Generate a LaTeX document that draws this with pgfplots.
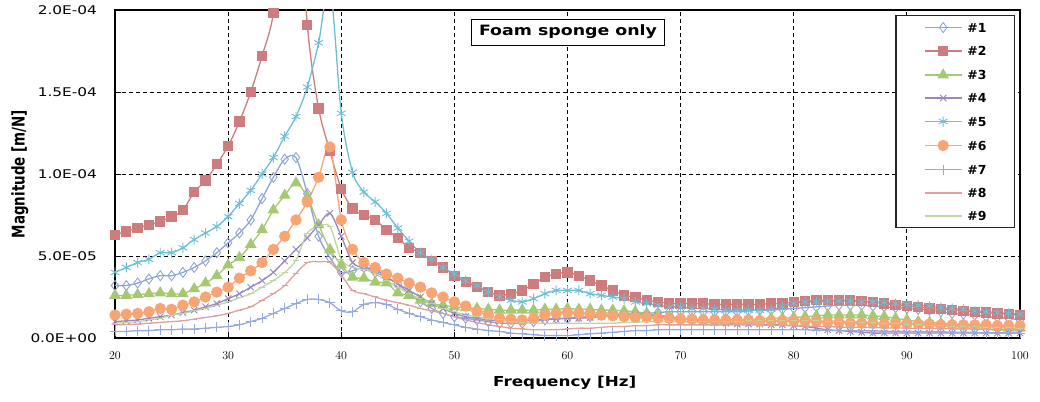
\documentclass[border=0pt]{standalone}
\usepackage{fontspec}
\setmainfont{DejaVu Sans}
\newfontfamily\widefont[FakeStretch=1.22]{DejaVu Sans}
\newfontfamily\tickfont[FakeStretch=1.28]{DejaVu Sans}
\usepackage{graphicx}
\usepackage{pgfplots}
\usepackage{pgfplotstable}
\pgfplotsset{compat=1.18}

\definecolor{c1}{RGB}{143,165,214}
\definecolor{c2}{RGB}{205,125,125}
\definecolor{c3}{RGB}{165,200,115}
\definecolor{c4}{RGB}{155,135,190}
\definecolor{c5}{RGB}{110,190,215}
\definecolor{c6}{RGB}{248,165,115}
\definecolor{c7}{RGB}{150,170,220}
\definecolor{c8}{RGB}{225,160,160}
\definecolor{c9}{RGB}{190,215,160}

% magnitude in units of 1E-05 m/N
\pgfplotstableread{
f s1 s2 s3 s4 s5 s6 s7 s8 s9
20 3.2 6.3 2.6 1.0 4.0 1.4 0.4 0.8 0.9
21 3.2 6.5 2.6 1.05 4.3 1.45 0.4 0.82 0.95
22 3.35 6.7 2.65 1.1 4.6 1.5 0.45 0.85 1.0
23 3.6 6.9 2.7 1.2 4.8 1.6 0.45 0.9 1.1
24 3.8 7.1 2.75 1.3 5.2 1.8 0.5 0.95 1.2
25 3.8 7.4 2.7 1.4 5.2 1.75 0.5 1.0 1.4
26 4.0 7.8 2.7 1.55 5.5 2.0 0.55 1.05 1.5
27 4.3 8.9 3.0 1.7 6.0 2.2 0.55 1.15 1.65
28 4.7 9.6 3.35 1.9 6.4 2.5 0.6 1.25 1.8
29 5.2 10.6 3.8 2.1 6.8 2.8 0.65 1.35 2.0
30 5.8 11.7 4.45 2.4 7.4 3.1 0.7 1.5 2.2
31 6.4 13.2 4.9 2.7 8.2 3.65 0.8 1.7 2.45
32 7.2 15.0 5.7 3.1 9.0 4.1 1.0 1.9 2.7
33 8.5 17.2 6.6 3.5 10.0 4.6 1.2 2.3 3.1
34 9.8 19.8 7.8 4.0 11.0 5.4 1.5 2.7 3.5
35 10.9 26 8.7 4.7 12.3 6.2 1.8 3.2 4.0
36 11.0 30 9.45 5.4 13.5 7.2 2.1 3.95 4.75
37 8.8 19.1 8.6 6.1 15.3 8.3 2.35 4.6 6.4
38 6.2 14.0 6.9 6.9 18.0 9.8 2.35 4.65 6.8
39 4.9 11.4 5.4 7.6 21.5 11.65 2.15 4.6 6.8
40 4.0 9.1 4.45 6.2 13.7 7.2 1.65 3.85 4.8
41 4.1 7.9 3.7 4.6 10.1 5.4 1.6 2.9 4.3
42 4.3 7.5 3.65 4.3 8.9 4.6 2.05 2.7 4.2
43 4.0 7.2 3.4 4.2 8.3 4.3 2.15 2.5 3.9
44 3.7 6.6 3.35 3.7 7.6 3.9 2.05 2.3 3.5
45 3.3 6.1 2.75 3.3 6.7 3.65 1.75 2.15 3.1
46 2.7 5.5 2.6 2.9 5.9 3.35 1.5 2.0 2.7
47 2.2 5.2 2.3 2.5 5.2 3.1 1.3 1.8 2.4
48 1.8 4.7 2.1 2.1 4.8 2.75 1.1 1.65 2.1
49 1.5 4.3 2.0 1.8 4.3 2.5 0.95 1.5 1.8
50 1.3 3.8 1.9 1.5 3.9 2.2 0.8 1.3 1.6
51 1.2 3.4 1.85 1.3 3.5 1.95 0.65 1.1 1.4
52 1.1 3.1 1.8 1.2 3.2 1.6 0.55 0.95 1.3
53 1.0 2.8 1.75 1.1 2.8 1.4 0.45 0.8 1.2
54 0.9 2.6 1.7 1.05 2.5 1.2 0.4 0.7 1.1
55 0.9 2.7 1.7 1.05 2.3 1.15 0.3 0.6 1.0
56 0.9 2.9 1.7 1.05 2.2 1.1 0.25 0.55 0.95
57 1.0 3.3 1.7 1.1 2.4 1.2 0.2 0.5 0.9
58 1.1 3.7 1.75 1.15 2.7 1.4 0.15 0.5 0.9
59 1.2 3.9 1.75 1.15 2.9 1.5 0.15 0.5 0.9
60 1.2 4.0 1.8 1.2 2.9 1.55 0.15 0.55 0.9
61 1.3 3.8 1.75 1.2 2.9 1.5 0.2 0.6 0.9
62 1.3 3.5 1.75 1.25 2.7 1.45 0.25 0.6 0.9
63 1.4 3.2 1.7 1.3 2.6 1.4 0.3 0.65 0.9
64 1.4 2.9 1.7 1.35 2.5 1.35 0.35 0.7 0.9
65 1.5 2.6 1.65 1.4 2.4 1.3 0.4 0.7 0.95
66 1.5 2.5 1.6 1.4 2.2 1.25 0.45 0.75 0.95
67 1.5 2.3 1.5 1.4 2.1 1.25 0.45 0.75 1.0
68 1.55 2.2 1.4 1.35 2.0 1.2 0.5 0.8 1.0
69 1.6 2.1 1.3 1.3 1.9 1.2 0.5 0.8 1.0
70 1.6 2.1 1.2 1.2 1.9 1.15 0.5 0.8 1.0
71 1.6 2.1 1.15 1.1 1.8 1.15 0.5 0.8 1.0
72 1.6 2.1 1.1 1.0 1.8 1.1 0.5 0.8 1.0
73 1.6 2.05 1.1 0.95 1.75 1.1 0.5 0.8 1.0
74 1.6 2.05 1.1 0.9 1.7 1.1 0.5 0.8 1.02
75 1.6 2.05 1.1 0.85 1.7 1.1 0.5 0.8 1.03
76 1.65 2.05 1.1 0.85 1.7 1.1 0.5 0.8 1.04
77 1.7 2.05 1.15 0.85 1.7 1.05 0.5 0.78 1.05
78 1.7 2.1 1.2 0.8 1.75 1.05 0.5 0.77 1.05
79 1.75 2.1 1.2 0.8 1.9 1.05 0.5 0.76 1.05
80 1.8 2.2 1.25 0.75 2.1 1.05 0.5 0.75 1.05
81 1.85 2.25 1.3 0.7 2.2 1.0 0.5 0.73 1.05
82 1.9 2.3 1.35 0.6 2.2 1.0 0.48 0.71 1.04
83 1.95 2.3 1.4 0.5 2.25 0.95 0.47 0.69 1.03
84 2.0 2.3 1.4 0.45 2.25 0.95 0.46 0.67 1.02
85 2.0 2.3 1.4 0.4 2.25 0.9 0.45 0.65 1.0
86 2.0 2.25 1.4 0.35 2.2 0.9 0.44 0.64 0.97
87 1.95 2.2 1.35 0.3 2.2 0.9 0.43 0.63 0.94
88 1.9 2.1 1.3 0.3 2.15 0.85 0.42 0.62 0.91
89 1.85 2.0 1.2 0.3 2.1 0.85 0.41 0.61 0.88
90 1.8 1.95 1.1 0.3 2.05 0.85 0.4 0.6 0.85
91 1.75 1.9 1.0 0.3 2.0 0.85 0.39 0.59 0.82
92 1.7 1.8 0.95 0.3 1.95 0.85 0.38 0.58 0.79
93 1.6 1.75 0.9 0.3 1.85 0.8 0.37 0.57 0.76
94 1.5 1.7 0.85 0.3 1.8 0.8 0.36 0.56 0.73
95 1.45 1.65 0.8 0.3 1.75 0.8 0.35 0.55 0.7
96 1.4 1.6 0.75 0.3 1.65 0.8 0.34 0.54 0.68
97 1.3 1.55 0.7 0.3 1.6 0.8 0.33 0.53 0.66
98 1.25 1.5 0.65 0.3 1.55 0.75 0.32 0.52 0.64
99 1.2 1.45 0.6 0.3 1.5 0.75 0.31 0.51 0.62
100 1.1 1.4 0.6 0.3 1.45 0.75 0.3 0.5 0.6
}\freqdata

\begin{document}
\begin{tikzpicture}
\useasboundingbox (-115bp,-64bp) rectangle (925bp,338bp);
\begin{axis}[
    at={(0,0)}, anchor=south west,
    scale only axis, width=905bp, height=328bp,
    xmin=20, xmax=100, ymin=0, ymax=20,
    xtick={20,30,...,100},
    ytick={0,5,10,15,20},
    yticklabels={0.0E+00,5.0E-05,1.0E-04,1.5E-04,2.0E-04},
    scaled y ticks=false,
    grid=major,
    major grid style={black, dash pattern=on 4bp off 3bp, line width=0.8bp},
    axis line style={black, line width=1.2bp},
    tick style={black, line width=0.8bp},
    tick pos=left, tick align=inside, major tick length=6bp,
    tick label style={font=\tickfont\fontsize{12}{14}\selectfont},
    xticklabel style={anchor=center, inner sep=0pt, yshift=-18bp},
    yticklabel style={anchor=east, inner sep=0pt, xshift=-18bp},
    xlabel={Frequency [Hz]},
    ylabel={\scalebox{1}[1.3]{Magnitude [m/N]}},
    xlabel style={font=\widefont\bfseries\fontsize{13.8}{16}\selectfont,
        at={(axis description cs:0.497,-0.137)}, anchor=center},
    ylabel style={font=\bfseries\fontsize{13.5}{15}\selectfont,
        at={(axis description cs:-0.105,0.5)}, anchor=center},
    legend style={at={(rel axis cs:0.9945,0.985)}, anchor=north east,
        draw=black!85, line width=1.2bp, fill=white,
        font=\bfseries\fontsize{12.5}{14}\selectfont,
        inner xsep=28bp, inner ysep=7bp, row sep=14bp,
        nodes={inner sep=0pt, text height=9bp, text depth=0bp},
        /tikz/every odd column/.append style={column sep=5bp}},
    legend cell align=left,
    legend image code/.code={\draw[mark repeat=2, mark phase=2, #1]
        plot coordinates {(0bp,0bp) (18.5bp,0bp) (37bp,0bp)};},
    every axis plot/.append style={line width=1.3bp, smooth},
]
\addplot[c1, mark=diamond, mark size=5bp, mark options={solid, fill=white, line width=0.9bp}] table[x=f, y=s1] {\freqdata};
\addplot[c2, mark=square*, mark size=4.5bp, mark options={solid}] table[x=f, y=s2] {\freqdata};
\addplot[c3, mark=triangle*, mark size=5.5bp, mark options={solid}] table[x=f, y=s3] {\freqdata};
\addplot[c4, mark=x, mark size=4.5bp, mark options={solid, line width=0.9bp}] table[x=f, y=s4] {\freqdata};
\addplot[c5, mark=asterisk, mark size=5bp, mark options={solid, line width=0.9bp}] table[x=f, y=s5] {\freqdata};
\addplot[c6, mark=*, mark size=5bp, mark options={solid}] table[x=f, y=s6] {\freqdata};
\addplot[c7, mark=+, mark size=5bp, mark options={solid, line width=0.9bp}] table[x=f, y=s7] {\freqdata};
\addplot[c8, mark=-, mark size=3bp, mark options={solid, line width=1bp}] table[x=f, y=s8] {\freqdata};
\addplot[c9, mark=-, mark size=3bp, mark options={solid, line width=1bp}] table[x=f, y=s9] {\freqdata};
\legend{\#1,\#2,\#3,\#4,\#5,\#6,\#7,\#8,\#9}
\node[draw=black, line width=0.8bp, fill=white, inner sep=0pt,
    minimum width=193bp, minimum height=26bp,
    font=\widefont\bfseries\fontsize{14.3}{16}\selectfont]
    at (rel axis cs:0.5006,0.933) {Foam sponge only};
\end{axis}
\end{tikzpicture}
\end{document}
